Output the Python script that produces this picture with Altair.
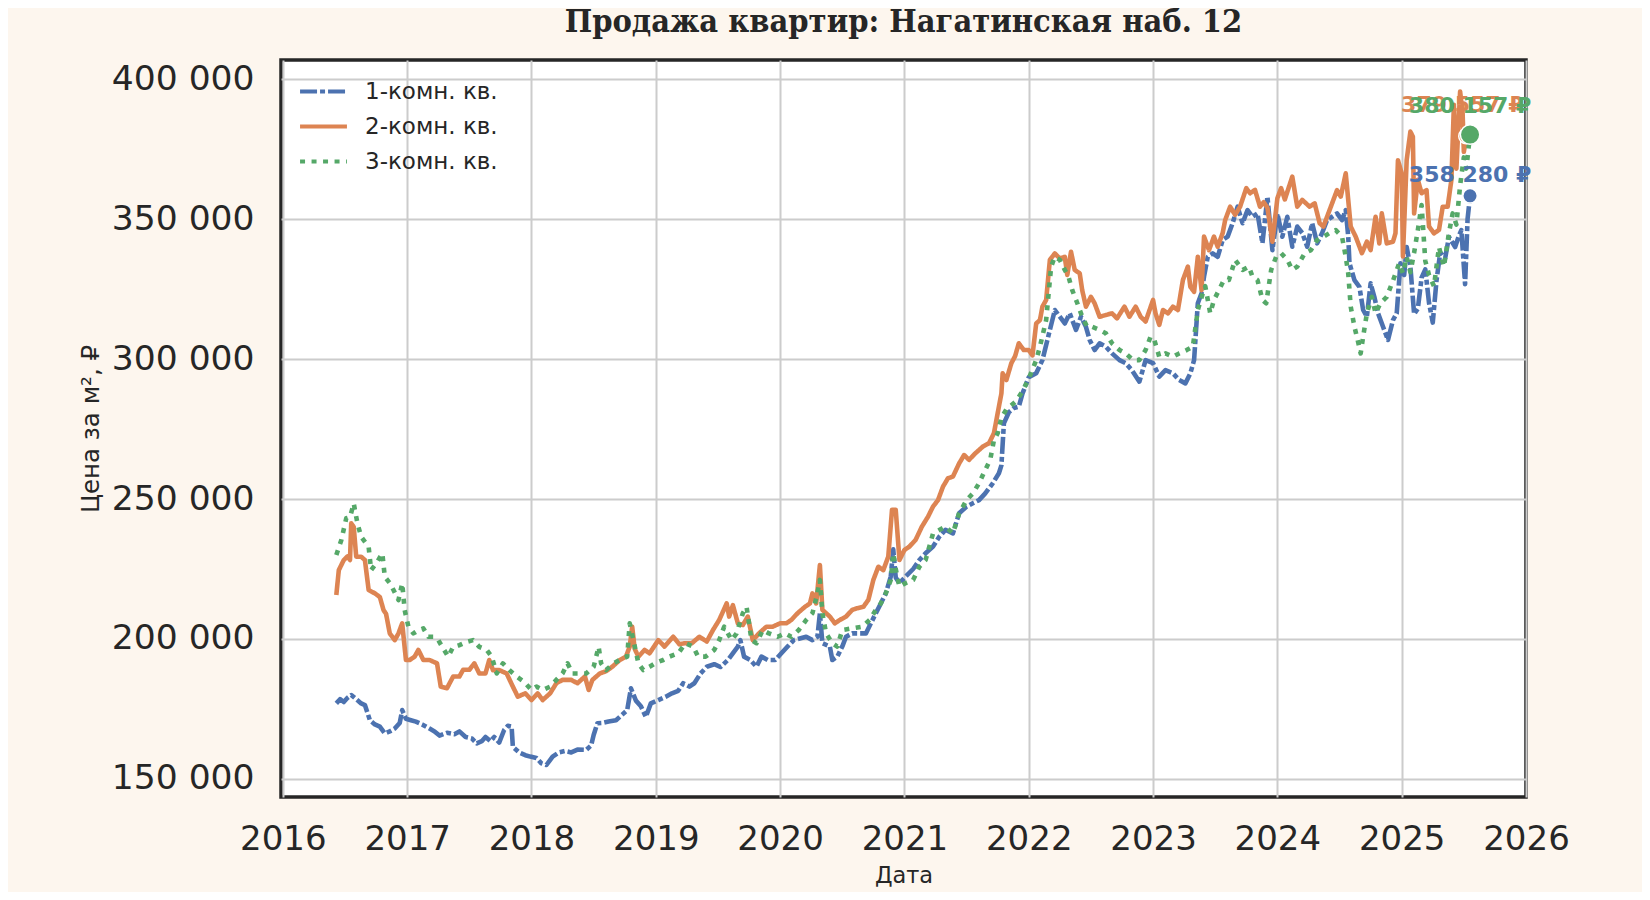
import altair as alt
import pandas as pd

series_names = ["1-комн. кв.", "2-комн. кв.", "3-комн. кв."]
colors = ["#4C72B0", "#DD8452", "#55A868"]
dashes = [[17, 3, 5, 3], [1, 0], [5, 6.5]]

# 1-room (thousand RUB per m2)
blue_years = [2016.43, 2016.46, 2016.49, 2016.52, 2016.55, 2016.59, 2016.63, 2016.66, 2016.70, 2016.74,
              2016.78, 2016.82, 2016.86, 2016.90, 2016.94, 2016.96, 2016.99, 2017.03, 2017.07, 2017.12,
              2017.18, 2017.22, 2017.26, 2017.32, 2017.38, 2017.42, 2017.47, 2017.52, 2017.56, 2017.60,
              2017.63, 2017.67, 2017.70, 2017.74, 2017.78, 2017.81, 2017.84, 2017.85, 2017.90, 2017.95,
              2017.99, 2018.04, 2018.08, 2018.12, 2018.17, 2018.22, 2018.27, 2018.32, 2018.37, 2018.44,
              2018.48, 2018.50, 2018.53, 2018.57, 2018.62, 2018.68, 2018.73, 2018.77, 2018.80, 2018.84,
              2018.88, 2018.92, 2018.96, 2019.02, 2019.08, 2019.13, 2019.18, 2019.22, 2019.27, 2019.31,
              2019.36, 2019.41, 2019.47, 2019.52, 2019.58, 2019.63, 2019.66, 2019.68, 2019.71, 2019.76,
              2019.81, 2019.85, 2019.90, 2019.96, 2020.01, 2020.06, 2020.11, 2020.21, 2020.26, 2020.30,
              2020.32, 2020.34, 2020.40, 2020.42, 2020.46, 2020.50, 2020.53, 2020.58, 2020.64, 2020.69,
              2020.73, 2020.77, 2020.81, 2020.85, 2020.89, 2020.91, 2020.93, 2020.96, 2021.01, 2021.07,
              2021.12, 2021.17, 2021.23, 2021.28, 2021.33, 2021.39, 2021.44, 2021.50, 2021.55, 2021.60,
              2021.65, 2021.71, 2021.76, 2021.78, 2021.80, 2021.84, 2021.88, 2021.92, 2021.95, 2022.00,
              2022.06, 2022.11, 2022.17, 2022.21, 2022.25, 2022.29, 2022.33, 2022.38, 2022.42, 2022.46,
              2022.49, 2022.53, 2022.57, 2022.62, 2022.67, 2022.73, 2022.78, 2022.83, 2022.89, 2022.94,
              2023.00, 2023.05, 2023.10, 2023.16, 2023.21, 2023.26, 2023.30, 2023.33, 2023.36, 2023.39,
              2023.41, 2023.44, 2023.48, 2023.52, 2023.56, 2023.60, 2023.64, 2023.68, 2023.72, 2023.76,
              2023.80, 2023.84, 2023.88, 2023.92, 2023.96, 2024.00, 2024.04, 2024.08, 2024.12, 2024.16,
              2024.20, 2024.24, 2024.28, 2024.32, 2024.36, 2024.40, 2024.44, 2024.48, 2024.52, 2024.55,
              2024.57, 2024.58, 2024.62, 2024.66, 2024.69, 2024.72, 2024.75, 2024.78, 2024.81, 2024.85,
              2024.89, 2024.93, 2024.96, 2024.99, 2025.02, 2025.04, 2025.07, 2025.10, 2025.13, 2025.16,
              2025.19, 2025.22, 2025.25, 2025.28, 2025.31, 2025.35, 2025.38, 2025.43, 2025.46, 2025.48,
              2025.51, 2025.53, 2025.55]
blue_vals = [177.0, 178.5, 177.5, 179.0, 180.0, 178.5, 177.0, 176.4, 171.0, 169.5,
             168.7, 166.3, 167.0, 168.0, 170.0, 174.6, 171.5, 171.0, 170.5, 169.5,
             168.0, 167.0, 165.5, 166.5, 166.0, 167.0, 165.0, 164.5, 162.7, 163.5,
             165.0, 163.5, 165.0, 163.0, 167.5, 169.0, 168.7, 161.5, 159.5, 158.5,
             158.0, 157.5, 155.6, 155.0, 158.0, 159.5, 160.0, 159.5, 160.5, 160.4,
             162.0, 165.7, 169.9, 170.0, 170.5, 171.0, 173.0, 174.6, 182.4, 178.0,
             176.0, 172.2, 177.0, 178.2, 179.4, 180.6, 181.5, 184.2, 183.0, 184.2,
             187.7, 190.1, 191.0, 190.0, 192.5, 195.5, 197.3, 199.6, 193.7, 192.5,
             190.1, 193.7, 192.5, 192.5, 194.9, 197.3, 199.6, 200.8, 199.6, 200.8,
             209.2, 198.5, 197.3, 192.5, 193.7, 197.3, 200.8, 202.0, 202.0, 202.0,
             205.6, 209.2, 212.7, 216.3, 222.3, 232.0, 222.0, 219.9, 222.3, 225.0,
             228.2, 230.6, 233.0, 236.5, 239.0, 237.7, 244.9, 247.3, 248.5, 249.6,
             252.0, 255.6, 259.2, 262.0, 277.0, 281.0, 282.5, 283.0, 287.7, 293.5,
             294.9, 299.6, 310.4, 317.5, 315.1, 312.7, 316.3, 310.4, 315.1, 311.5,
             306.8, 303.2, 305.6, 304.4, 302.0, 299.6, 298.5, 296.0, 291.9, 299.6,
             298.5, 293.7, 296.0, 294.9, 292.5, 291.3, 294.9, 299.6, 319.9, 323.5,
             329.4, 336.5, 337.7, 336.5, 342.5, 343.7, 348.5, 354.4, 348.5, 353.2,
             350.8, 352.0, 341.3, 358.0, 338.9, 352.0, 343.7, 350.8, 340.1, 347.3,
             345.0, 340.1, 348.5, 341.3, 345.0, 349.6, 350.8, 352.0, 349.6, 353.2,
             343.7, 334.2, 328.2, 325.8, 317.5, 315.1, 327.0, 322.2, 316.3, 311.5,
             306.8, 313.9, 316.3, 334.2, 330.0, 340.0, 333.0, 316.0, 318.0, 329.0,
             332.0, 320.0, 313.0, 328.0, 338.0, 336.0, 343.6, 340.0, 344.0, 346.0,
             326.7, 350.0, 358.28]

# 2-room
orange_years = [2016.43, 2016.45, 2016.49, 2016.52, 2016.54, 2016.55, 2016.57, 2016.59, 2016.63, 2016.66,
                2016.69, 2016.74, 2016.78, 2016.81, 2016.83, 2016.86, 2016.90, 2016.93, 2016.96, 2016.99,
                2017.02, 2017.06, 2017.09, 2017.13, 2017.18, 2017.24, 2017.27, 2017.32, 2017.37, 2017.42,
                2017.45, 2017.50, 2017.54, 2017.58, 2017.63, 2017.66, 2017.69, 2017.74, 2017.80, 2017.85,
                2017.89, 2017.95, 2018.00, 2018.05, 2018.09, 2018.15, 2018.20, 2018.25, 2018.32, 2018.37,
                2018.43, 2018.46, 2018.49, 2018.55, 2018.60, 2018.65, 2018.71, 2018.76, 2018.79, 2018.81,
                2018.83, 2018.86, 2018.91, 2018.95, 2019.02, 2019.07, 2019.14, 2019.19, 2019.23, 2019.29,
                2019.35, 2019.41, 2019.46, 2019.51, 2019.57, 2019.59, 2019.62, 2019.66, 2019.70, 2019.74,
                2019.78, 2019.83, 2019.89, 2019.94, 2020.00, 2020.05, 2020.09, 2020.14, 2020.20, 2020.24,
                2020.26, 2020.29, 2020.32, 2020.34, 2020.37, 2020.40, 2020.44, 2020.48, 2020.53, 2020.58,
                2020.62, 2020.67, 2020.71, 2020.75, 2020.79, 2020.83, 2020.87, 2020.90, 2020.93, 2020.96,
                2021.00, 2021.04, 2021.09, 2021.14, 2021.19, 2021.23, 2021.27, 2021.31, 2021.35, 2021.39,
                2021.44, 2021.48, 2021.52, 2021.57, 2021.63, 2021.68, 2021.72, 2021.76, 2021.78, 2021.79,
                2021.82, 2021.86, 2021.89, 2021.92, 2021.96, 2022.00, 2022.03, 2022.06, 2022.09, 2022.11,
                2022.14, 2022.17, 2022.21, 2022.25, 2022.29, 2022.31, 2022.34, 2022.37, 2022.41, 2022.43,
                2022.46, 2022.50, 2022.53, 2022.57, 2022.62, 2022.67, 2022.71, 2022.77, 2022.81, 2022.86,
                2022.90, 2022.94, 2023.00, 2023.02, 2023.05, 2023.08, 2023.12, 2023.16, 2023.20, 2023.24,
                2023.28, 2023.30, 2023.33, 2023.36, 2023.39, 2023.41, 2023.45, 2023.49, 2023.52, 2023.56,
                2023.58, 2023.62, 2023.66, 2023.70, 2023.75, 2023.78, 2023.82, 2023.86, 2023.89, 2023.92,
                2023.96, 2024.00, 2024.03, 2024.06, 2024.12, 2024.16, 2024.20, 2024.26, 2024.30, 2024.34,
                2024.37, 2024.42, 2024.48, 2024.51, 2024.55, 2024.59, 2024.63, 2024.68, 2024.72, 2024.75,
                2024.79, 2024.82, 2024.84, 2024.88, 2024.93, 2024.95, 2024.97, 2025.00, 2025.01, 2025.04,
                2025.07, 2025.09, 2025.10, 2025.13, 2025.16, 2025.20, 2025.22, 2025.26, 2025.30, 2025.33,
                2025.37, 2025.40, 2025.42, 2025.44, 2025.47, 2025.49, 2025.50, 2025.52]
orange_vals = [215.7, 224.6, 228.2, 229.5, 228.2, 241.3, 240.0, 229.4, 229.4, 228.2,
               217.5, 216.3, 215.0, 210.3, 209.0, 202.0, 199.6, 202.0, 205.6, 192.5,
               192.5, 193.7, 196.1, 192.5, 192.5, 191.3, 183.0, 182.4, 186.6, 186.6,
               189.0, 189.0, 191.3, 187.7, 187.7, 192.5, 188.9, 188.9, 187.7, 183.0,
               179.4, 180.6, 178.2, 180.6, 178.2, 180.6, 184.2, 185.4, 185.4, 184.2,
               186.6, 181.8, 185.4, 187.7, 188.5, 190.1, 192.5, 193.7, 197.3, 204.4,
               196.5, 193.7, 196.1, 194.9, 199.6, 197.3, 200.8, 198.1, 198.5, 198.5,
               200.8, 199.1, 203.2, 206.8, 212.7, 208.0, 212.1, 205.6, 205.0, 208.0,
               199.6, 202.0, 204.4, 204.4, 205.6, 205.6, 206.8, 209.2, 211.5, 212.7,
               216.3, 212.7, 226.4, 210.4, 209.2, 208.0, 205.6, 206.8, 208.0, 210.4,
               211.0, 211.5, 214.0, 221.1, 225.8, 224.6, 229.4, 246.1, 246.1, 228.2,
               231.8, 233.0, 235.4, 240.1, 243.7, 247.3, 249.6, 254.4, 257.4, 258.0,
               262.7, 265.7, 264.0, 266.3, 268.7, 269.9, 273.5, 283.0, 287.7, 294.9,
               292.5, 298.5, 301.0, 305.6, 303.2, 303.2, 301.3, 312.7, 313.9, 318.7,
               321.1, 335.4, 337.7, 335.9, 336.5, 330.0, 338.3, 331.8, 330.6, 324.6,
               318.7, 322.2, 319.9, 315.1, 315.7, 316.3, 314.5, 318.7, 315.1, 318.7,
               315.1, 313.4, 321.1, 316.3, 312.2, 317.5, 316.3, 318.7, 317.5, 328.2,
               333.0, 325.8, 324.0, 336.5, 324.6, 343.7, 338.9, 343.7, 340.1, 345.0,
               349.6, 354.4, 351.5, 354.4, 361.0, 359.2, 360.4, 354.4, 356.0, 354.0,
               341.9, 357.4, 361.0, 357.0, 365.1, 354.4, 356.8, 354.4, 355.6, 348.5,
               347.3, 353.2, 360.3, 358.0, 366.3, 347.3, 343.7, 337.8, 341.9, 338.9,
               350.8, 341.3, 352.0, 341.3, 341.9, 344.9, 371.0, 366.3, 336.6, 371.0,
               381.2, 379.4, 352.0, 364.0, 359.2, 360.3, 347.3, 344.9, 346.1, 354.4,
               354.4, 364.0, 390.8, 368.0, 395.5, 388.0, 374.0, 379.557]

# 3-room
green_years = [2016.43, 2016.47, 2016.51, 2016.54, 2016.57, 2016.60, 2016.63, 2016.69, 2016.71, 2016.75,
               2016.80, 2016.82, 2016.86, 2016.89, 2016.93, 2016.96, 2016.98, 2017.01, 2017.05, 2017.09,
               2017.13, 2017.17, 2017.21, 2017.25, 2017.29, 2017.33, 2017.37, 2017.42, 2017.48, 2017.53,
               2017.58, 2017.64, 2017.68, 2017.72, 2017.77, 2017.82, 2017.88, 2017.94, 2018.00, 2018.04,
               2018.09, 2018.15, 2018.20, 2018.25, 2018.29, 2018.33, 2018.39, 2018.44, 2018.50, 2018.54,
               2018.56, 2018.60, 2018.66, 2018.71, 2018.77, 2018.79, 2018.82, 2018.86, 2018.90, 2018.95,
               2019.00, 2019.06, 2019.11, 2019.18, 2019.24, 2019.30, 2019.34, 2019.40, 2019.47, 2019.51,
               2019.55, 2019.61, 2019.65, 2019.70, 2019.73, 2019.77, 2019.81, 2019.86, 2019.91, 2019.98,
               2020.04, 2020.09, 2020.15, 2020.21, 2020.26, 2020.30, 2020.32, 2020.34, 2020.37, 2020.42,
               2020.46, 2020.50, 2020.58, 2020.66, 2020.72, 2020.77, 2020.81, 2020.85, 2020.89, 2020.91,
               2020.93, 2020.96, 2021.01, 2021.07, 2021.12, 2021.17, 2021.23, 2021.28, 2021.33, 2021.39,
               2021.44, 2021.50, 2021.55, 2021.60, 2021.65, 2021.69, 2021.72, 2021.75, 2021.78, 2021.82,
               2021.86, 2021.90, 2021.95, 2022.00, 2022.06, 2022.09, 2022.14, 2022.18, 2022.21, 2022.25,
               2022.29, 2022.32, 2022.35, 2022.39, 2022.43, 2022.47, 2022.51, 2022.57, 2022.62, 2022.67,
               2022.73, 2022.78, 2022.84, 2022.89, 2022.94, 2022.98, 2023.01, 2023.05, 2023.10, 2023.16,
               2023.21, 2023.27, 2023.32, 2023.36, 2023.40, 2023.42, 2023.46, 2023.49, 2023.53, 2023.57,
               2023.61, 2023.66, 2023.72, 2023.77, 2023.80, 2023.84, 2023.88, 2023.91, 2023.95, 2023.99,
               2024.03, 2024.08, 2024.12, 2024.16, 2024.22, 2024.27, 2024.32, 2024.37, 2024.42, 2024.47,
               2024.52, 2024.55, 2024.57, 2024.59, 2024.62, 2024.65, 2024.67, 2024.69, 2024.72, 2024.76,
               2024.79, 2024.83, 2024.88, 2024.93, 2024.98, 2025.01, 2025.04, 2025.07, 2025.10, 2025.13,
               2025.16, 2025.19, 2025.22, 2025.26, 2025.30, 2025.34, 2025.38, 2025.41, 2025.44, 2025.47,
               2025.50, 2025.52, 2025.55]
green_vals = [230.0, 235.3, 243.1, 243.5, 248.4, 241.3, 236.5, 232.9, 224.6, 226.9,
              230.6, 222.2, 220.0, 217.5, 213.9, 219.9, 210.3, 204.4, 202.0, 203.1,
              203.8, 200.8, 200.8, 199.6, 196.6, 193.7, 197.2, 197.8, 199.0, 199.6,
              197.2, 196.1, 193.7, 187.7, 191.3, 189.0, 186.6, 184.7, 181.8, 183.0,
              181.8, 183.0, 185.4, 187.7, 191.3, 187.7, 187.7, 187.7, 190.1, 197.2,
              191.3, 188.9, 191.3, 192.5, 193.7, 205.6, 199.6, 191.3, 188.9, 190.1,
              191.5, 192.5, 193.7, 194.9, 198.5, 197.3, 193.7, 193.7, 196.1, 199.6,
              204.4, 199.6, 202.0, 209.2, 211.5, 199.6, 198.5, 203.2, 202.0, 200.8,
              202.0, 200.8, 203.2, 206.8, 209.2, 216.3, 221.1, 209.2, 202.0, 198.5,
              197.3, 203.2, 203.8, 204.4, 206.8, 210.4, 212.7, 216.3, 221.1, 230.6,
              225.0, 218.7, 220.0, 221.1, 225.8, 228.2, 237.7, 238.9, 240.1, 237.7,
              244.9, 249.6, 252.0, 255.6, 260.4, 264.0, 271.0, 273.5, 279.0, 282.0,
              283.5, 285.0, 288.5, 293.0, 299.6, 304.4, 313.9, 333.0, 336.5, 335.4,
              331.8, 329.4, 324.6, 320.0, 315.1, 311.5, 311.5, 310.4, 309.2, 305.6,
              303.2, 302.0, 299.6, 299.6, 303.2, 308.0, 306.8, 300.8, 302.0, 300.8,
              302.0, 303.2, 304.4, 317.5, 323.5, 326.0, 316.3, 321.1, 324.6, 328.2,
              328.2, 335.4, 331.8, 333.0, 329.4, 328.2, 321.1, 319.9, 331.8, 336.5,
              337.8, 335.4, 331.8, 333.0, 337.8, 338.9, 342.5, 343.7, 345.0, 346.0,
              343.7, 336.5, 330.6, 318.7, 311.5, 306.0, 302.0, 308.0, 316.3, 322.2,
              316.3, 320.0, 322.2, 328.0, 334.2, 330.6, 336.5, 331.0, 338.0, 346.0,
              355.0, 335.0, 330.0, 326.0, 340.0, 333.0, 345.0, 352.0, 348.0, 362.0,
              372.0, 368.0, 380.157]

end_labels = ["358 280 ₽", "379 557 ₽", "380 157 ₽"]

all_years = [blue_years, orange_years, green_years]
all_vals = [blue_vals, orange_vals, green_vals]

rows = []
for name, ys, vs in zip(series_names, all_years, all_vals):
    for y, v in zip(ys, vs):
        rows.append({"series": name, "year": y, "price": v * 1000})
df = pd.DataFrame(rows)

ends = pd.DataFrame({
    "series": series_names,
    "year": [ys[-1] for ys in all_years],
    "price": [vs[-1] * 1000 for vs in all_vals],
    "label": end_labels,
})

TXT = "#262626"

x_enc = alt.X(
    "year:Q",
    scale=alt.Scale(domain=[2015.985, 2026.0], nice=False, zero=False),
    axis=alt.Axis(
        values=list(range(2016, 2027)), format="d", title="Дата",
        labelFontSize=34, labelPadding=25, ticks=False, domain=False,
        labelOverlap=False, labelFlush=False,
        titleFontSize=22.5, titleFontWeight="normal", titleY=78, titleBaseline="middle",
    ),
)
y_enc = alt.Y(
    "price:Q",
    scale=alt.Scale(domain=[143570, 406790], nice=False, zero=False),
    axis=alt.Axis(
        values=[150000, 200000, 250000, 300000, 350000, 400000],
        labelExpr="replace(format(datum.value, ',d'), ',', ' ')",
        title="Цена за м², ₽",
        labelFontSize=34.5, labelPadding=27, ticks=False, domain=False,
        labelOverlap=False, labelFlush=False,
        titleFontSize=24.5, titleFontWeight="normal",
        titleX=-190, titleY=368.5, titleAlign="center", titleBaseline="middle", titleAngle=270,
    ),
)

legend_opts = dict(
    orient="none", legendX=17, legendY=15, symbolType="stroke",
    symbolSize=2200, symbolStrokeWidth=4, labelFontSize=23, labelColor=TXT,
    labelOffset=16, clipHeight=33, rowPadding=2, padding=0,
)

lines = alt.Chart(df).mark_line(strokeWidth=4.6, strokeCap="butt", strokeJoin="round").encode(
    x=x_enc,
    y=y_enc,
    color=alt.Color(
        "series:N",
        scale=alt.Scale(domain=series_names, range=colors),
        title=None,
        legend=alt.Legend(**legend_opts),
    ),
    strokeDash=alt.StrokeDash(
        "series:N",
        scale=alt.Scale(domain=series_names, range=dashes),
        title=None,
        legend=alt.Legend(**legend_opts),
    ),
)

layers = [lines]
dot_sizes = [210, 230, 380]
label_dy = [-20.5, -31, -29]
label_dx = [0, -4, 0]
for i, name in enumerate(series_names):
    sub = ends[ends["series"] == name]
    pts = alt.Chart(sub).mark_point(
        filled=True, size=dot_sizes[i], color=colors[i], opacity=1,
        stroke="white", strokeWidth=1.5,
    ).encode(x="year:Q", y="price:Q")
    layers.append(pts)
for i, name in enumerate(series_names):
    sub = ends[ends["series"] == name]
    txt = alt.Chart(sub).mark_text(
        fontSize=22, fontWeight="bold", color=colors[i], align="center",
        baseline="middle", dy=label_dy[i], dx=label_dx[i],
    ).encode(x="year:Q", y="price:Q", text="label:N")
    layers.append(txt)

chart = alt.layer(*layers).properties(
    width=1245,
    height=737,
    background="#fdf6ee",
    padding={"left": 273, "top": 52, "right": 116, "bottom": 95},
    autosize=alt.AutoSizeParams(type="none"),
    title=alt.TitleParams(
        "Продажа квартир: Нагатинская наб. 12",
        font="DejaVu Serif Condensed, DejaVu Serif, serif", fontSize=32.3,
        fontWeight="bold", color=TXT, anchor="middle", offset=22,
    ),
).configure(
    font="DejaVu Sans",
).configure_view(
    fill="white", stroke=TXT, strokeWidth=3.5,
).configure_axis(
    grid=True, gridColor="#cccccc", gridWidth=2, labelColor=TXT, titleColor=TXT,
    labelFont="DejaVu Sans", titleFont="DejaVu Sans",
)

chart.save("out.html", embed_options={"renderer": "svg", "actions": False})
